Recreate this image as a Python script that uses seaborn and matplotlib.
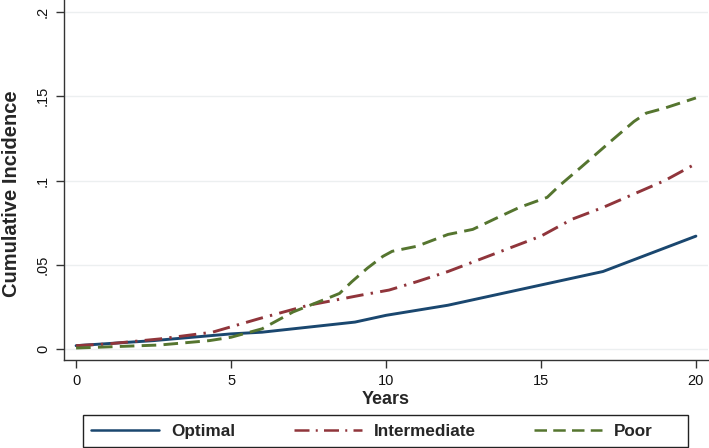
import numpy as np
import pandas as pd
import matplotlib
matplotlib.use("Agg")
import matplotlib.pyplot as plt
import matplotlib.patches as mpatches
from matplotlib.lines import Line2D
import seaborn as sns

# ---- data ----
optimal_years = [0, 2.5, 5, 6, 7, 8, 9, 10, 11, 12, 13, 14, 15, 16, 17, 18, 19, 20]
optimal_ci = [0.002, 0.005, 0.009, 0.010, 0.012, 0.014, 0.016, 0.020, 0.023, 0.026,
              0.030, 0.034, 0.038, 0.042, 0.046, 0.053, 0.060, 0.067]

intermediate_years = [0, 1, 2.7, 4.4, 5.9, 7.5, 9.2, 10.1, 11, 12, 13, 14, 15, 16, 17, 18, 19, 20]
intermediate_ci = [0.002, 0.003, 0.006, 0.010, 0.018, 0.026, 0.032, 0.035, 0.040, 0.046,
                   0.053, 0.060, 0.067, 0.077, 0.084, 0.092, 0.100, 0.110]

poor_years = [0, 2.7, 4.3, 5, 6, 7, 8.1, 8.5, 8.9, 9.4, 9.9, 10.2, 11, 12, 12.8, 13.6,
              14.3, 14.9, 15.2, 15.6, 16.3, 17.3, 18, 18.4, 19, 19.5, 20]
poor_ci = [0.0006, 0.0024, 0.005, 0.007, 0.012, 0.022, 0.030, 0.033, 0.040, 0.048, 0.055,
           0.058, 0.061, 0.068, 0.071, 0.078, 0.084, 0.088, 0.090, 0.097, 0.108, 0.124,
           0.135, 0.140, 0.143, 0.146, 0.149]

groups = ["Optimal", "Intermediate", "Poor"]
x_ticks = [0, 5, 10, 15, 20]
y_ticks = [0, 0.05, 0.1, 0.15, 0.2]
y_tick_labels = ["0", ".05", ".1", ".15", ".2"]

df = pd.concat([
    pd.DataFrame({"Years": optimal_years, "ci": optimal_ci, "group": "Optimal"}),
    pd.DataFrame({"Years": intermediate_years, "ci": intermediate_ci, "group": "Intermediate"}),
    pd.DataFrame({"Years": poor_years, "ci": poor_ci, "group": "Poor"}),
], ignore_index=True)

# ---- style ----
sns.set_theme(style="white")
plt.rcParams["font.family"] = ["Liberation Sans", "DejaVu Sans"]

palette = {"Optimal": "#1a476f", "Intermediate": "#90353b", "Poor": "#55752f"}
dashes = {"Optimal": "", "Intermediate": (6, 2.5, 0.8, 2.5), "Poor": (5, 2.5)}

W, H = 709, 448
fig = plt.figure(figsize=(W / 100, H / 100), dpi=100)
ax = fig.add_axes([64 / W, 1 - 360 / H, (708 - 64) / W, 360 / H])

sns.lineplot(data=df, x="Years", y="ci", hue="group", style="group",
             hue_order=groups, style_order=groups, palette=palette, dashes=dashes,
             linewidth=2.1, ax=ax, legend=False, sort=True, estimator=None)

ax.set_xlim(-0.39, 20.39)
ax.set_ylim(-0.0065, 0.2071)
ax.set_xticks(x_ticks)
ax.set_xticklabels([str(v) for v in x_ticks], fontsize=10.5)
ax.set_yticks(y_ticks)
ax.set_yticklabels(y_tick_labels, fontsize=10.5, rotation=90, va="center")
ax.tick_params(axis="both", which="major", length=6, width=1, color="#333333",
               direction="out", left=True, bottom=True, labelcolor="#111111")
ax.tick_params(axis="y", pad=4)
ax.tick_params(axis="x", pad=4)

ax.yaxis.grid(True, color="#eceff0", linewidth=1)
ax.xaxis.grid(False)
ax.set_axisbelow(True)
for side in ["top", "right"]:
    ax.spines[side].set_visible(False)
for side in ["left", "bottom"]:
    ax.spines[side].set_color("#333333")
    ax.spines[side].set_linewidth(1)

ax.set_xlabel("Years", fontsize=13, fontweight="bold", labelpad=2)
ax.set_ylabel("Cumulative Incidence", fontsize=14.5, fontweight="bold", va="top")
ax.yaxis.set_label_coords(-0.096, 0.461)

# legend (frame drawn separately to match the reference box)
handles = []
for g in groups:
    d = dashes[g]
    h = Line2D([0], [0], color=palette[g], linewidth=1.8)
    if d:
        h.set_dashes(d)
    handles.append(h)
leg = fig.legend(handles, groups, loc="center left", bbox_to_anchor=(91 / W, 1 - 431 / H),
                 ncol=3, prop={"weight": "bold", "size": 12.3}, handlelength=4.0,
                 handletextpad=0.7, columnspacing=3.4, borderpad=0.0, borderaxespad=0.0,
                 frameon=False)
frame = mpatches.Rectangle((83 / W, 1 - 447 / H), (688 - 83) / W, 32 / H,
                           transform=fig.transFigure, fill=False, edgecolor="#222222",
                           linewidth=1)
fig.patches.append(frame)

fig.savefig("out.png", dpi=100)
